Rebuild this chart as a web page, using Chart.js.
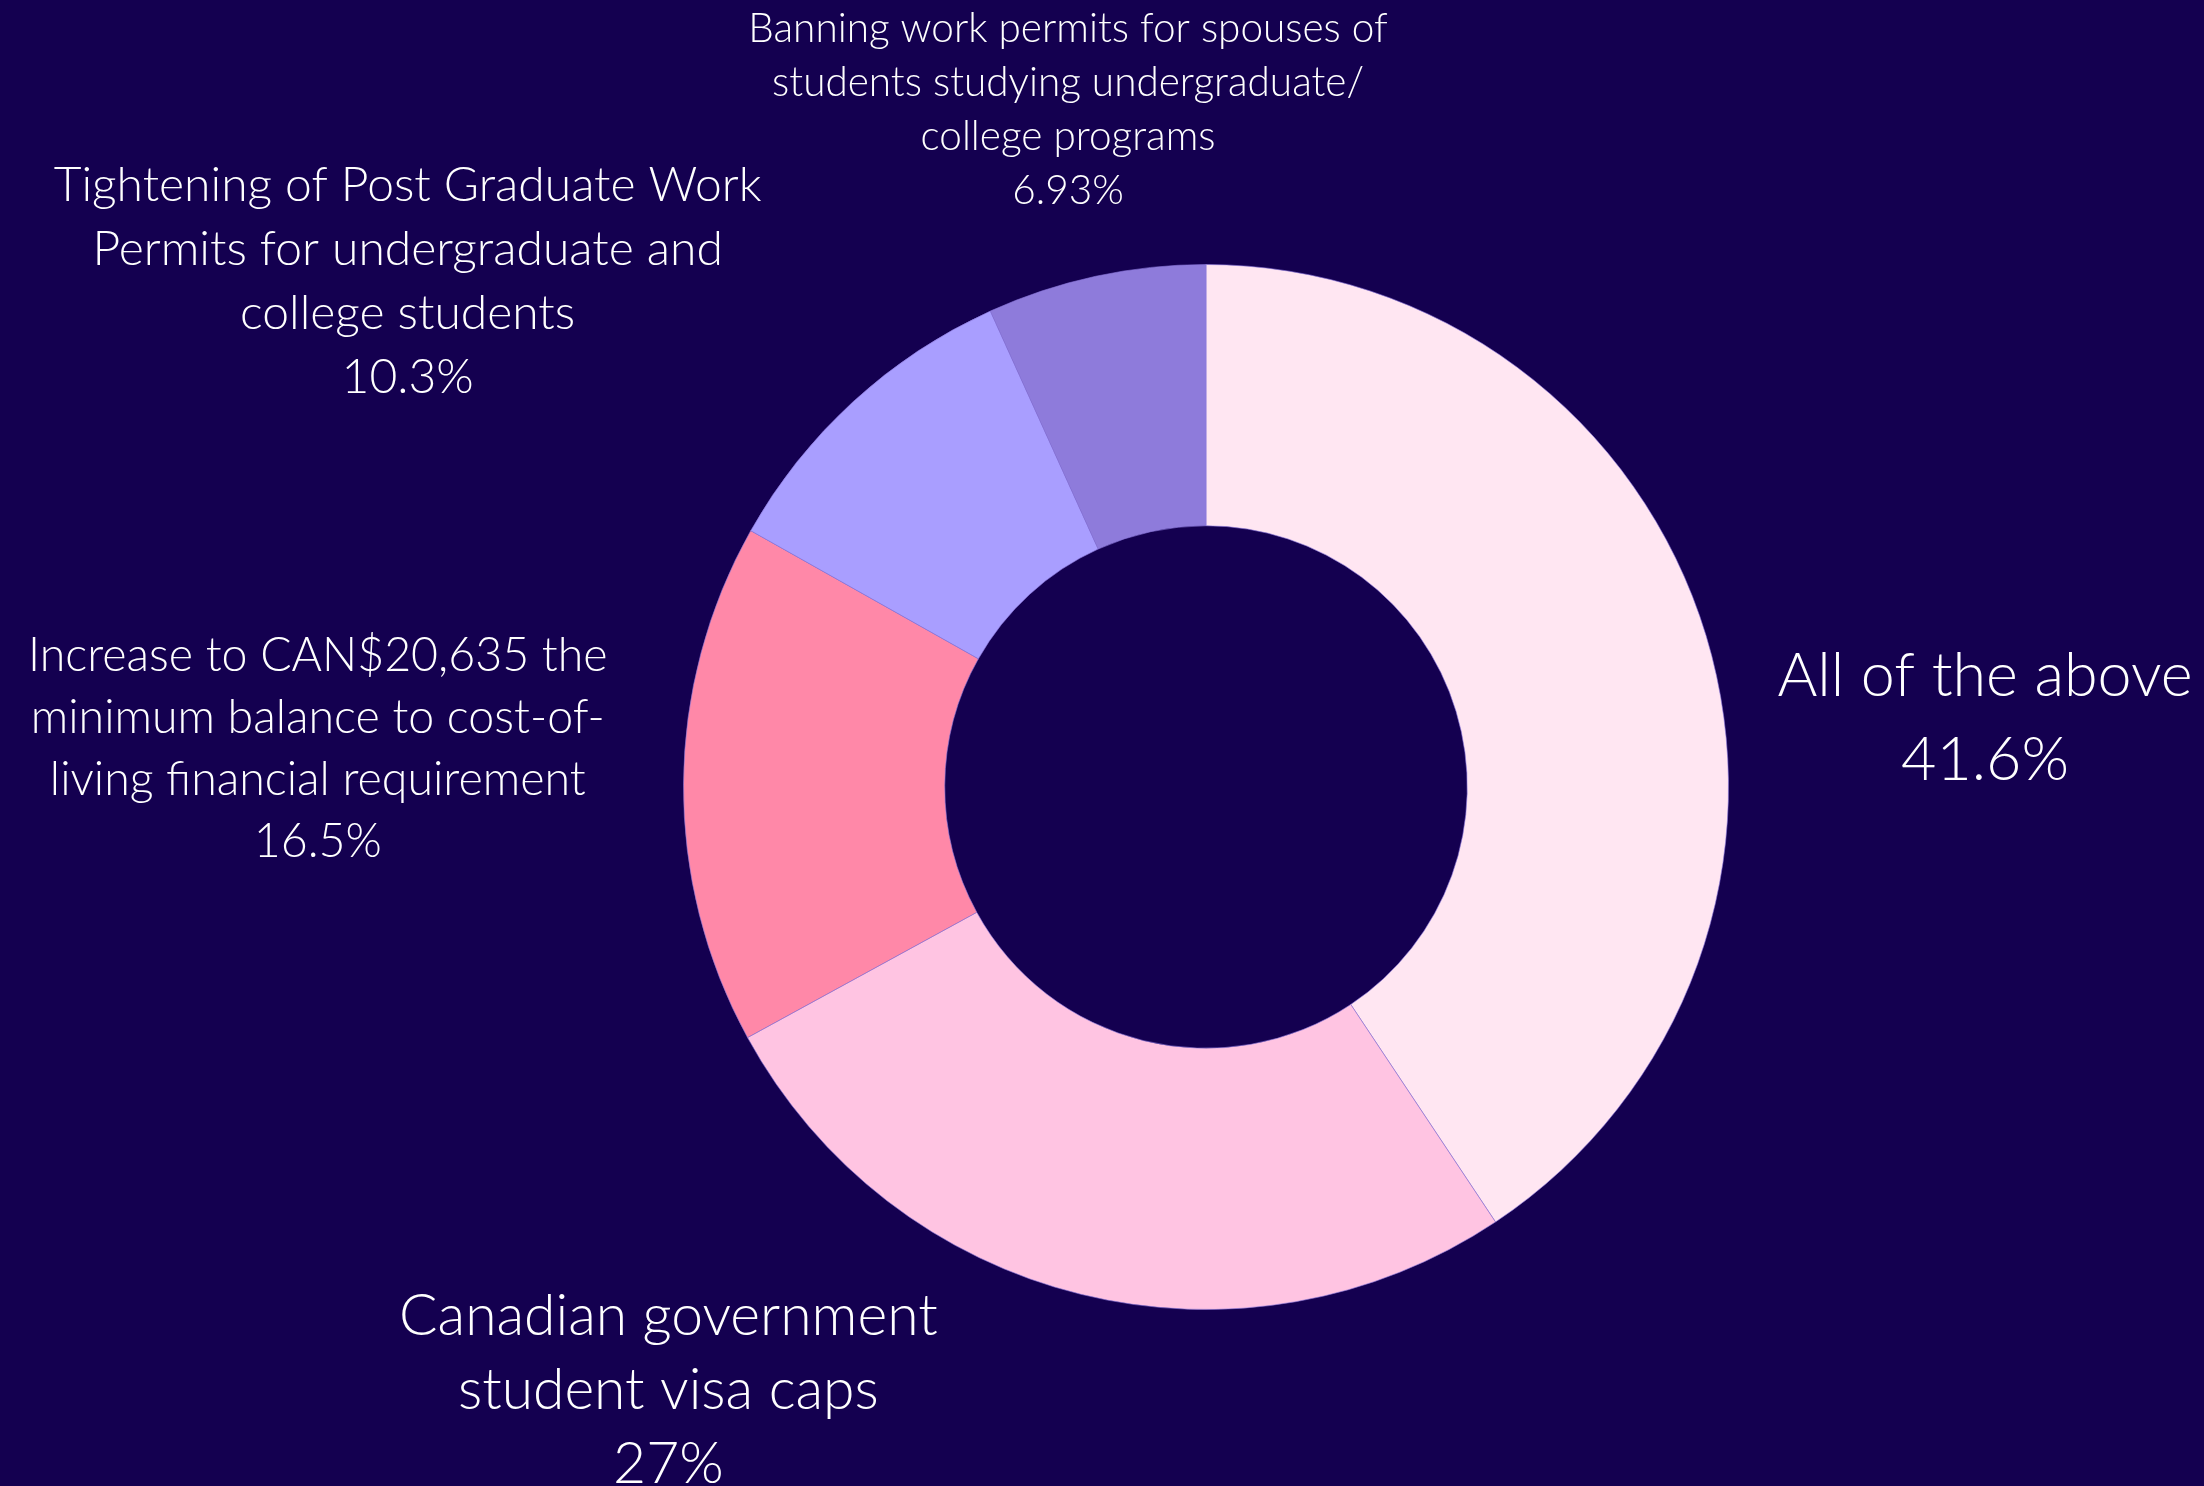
<!DOCTYPE html>
<html>
<head>
<meta charset="utf-8">
<script src="https://cdn.jsdelivr.net/npm/chart.js@4.4.0/dist/chart.umd.min.js"></script>
<style>
    html, body { margin: 0; padding: 0; background: #140050; }
    #wrap { width: 2204px; height: 1486px; position: relative; }
</style>
</head>
<body>
<div id="wrap"><canvas id="donut"></canvas></div>
<script>
// data
const categories = [
    ['All of the above'],
    ['Canadian government', 'student visa caps'],
    ['Increase to CAN$20,635 the', 'minimum balance to cost-of-', 'living financial requirement'],
    ['Tightening of Post Graduate Work', 'Permits for undergraduate and', 'college students'],
    ['Banning work permits for spouses of', 'students studying undergraduate/', 'college programs']
];
const shares = [41.6, 27, 16.5, 10.3, 6.93];
const shareLabels = ['41.6%', '27%', '16.5%', '10.3%', '6.93%'];

const sliceColors = ['#FFE6F2', '#FFC4E2', '#FF88A8', '#A99EFF', '#8E7BDB'];

// label layout: block centre relative to donut centre, in outer-radius units
const labelLayout = [
    { dx: 1.491, dy: -0.132, size: 61, lh: 84 },
    { dx: -1.029, dy: 1.155, size: 57, lh: 74 },
    { dx: -1.700, dy: -0.072, size: 46.5, lh: 62 },
    { dx: -1.528, dy: -0.967, size: 48, lh: 64 },
    { dx: -0.264, dy: -1.295, size: 40.5, lh: 54 }
];

const outsideLabels = {
    id: 'outsideLabels',
    afterDatasetsDraw(chart) {
        const ctx = chart.ctx;
        const arcs = chart.getDatasetMeta(0).data;
        if (!arcs.length) return;
        const cx = arcs[0].x, cy = arcs[0].y, r = arcs[0].outerRadius;
        ctx.save();
        ctx.fillStyle = '#ffffff';
        ctx.textAlign = 'center';
        ctx.textBaseline = 'middle';
        arcs.forEach((arc, i) => {
            const lay = labelLayout[i];
            const lines = categories[i].concat([shareLabels[i]]);
            ctx.font = '300 ' + lay.size + 'px Lato, "Open Sans", sans-serif';
            const x = cx + lay.dx * r;
            const y0 = cy + lay.dy * r - (lines.length - 1) * lay.lh / 2;
            lines.forEach((t, k) => ctx.fillText(t, x, y0 + k * lay.lh));
        });
        ctx.restore();
    }
};

new Chart(document.getElementById('donut').getContext('2d'), {
    type: 'doughnut',
    data: {
        labels: categories.map(c => c.join(' ')),
        datasets: [{
            data: shares,
            backgroundColor: sliceColors,
            borderColor: 'rgba(140,120,220,0.6)',
            borderWidth: 1
        }]
    },
    options: {
        responsive: true,
        maintainAspectRatio: false,
        animation: false,
        cutout: '50%',
        layout: { padding: { left: 683, right: 475, top: 264, bottom: 176 } },
        plugins: { legend: { display: false }, tooltip: { enabled: false } }
    },
    plugins: [outsideLabels]
});
</script>
</body>
</html>
